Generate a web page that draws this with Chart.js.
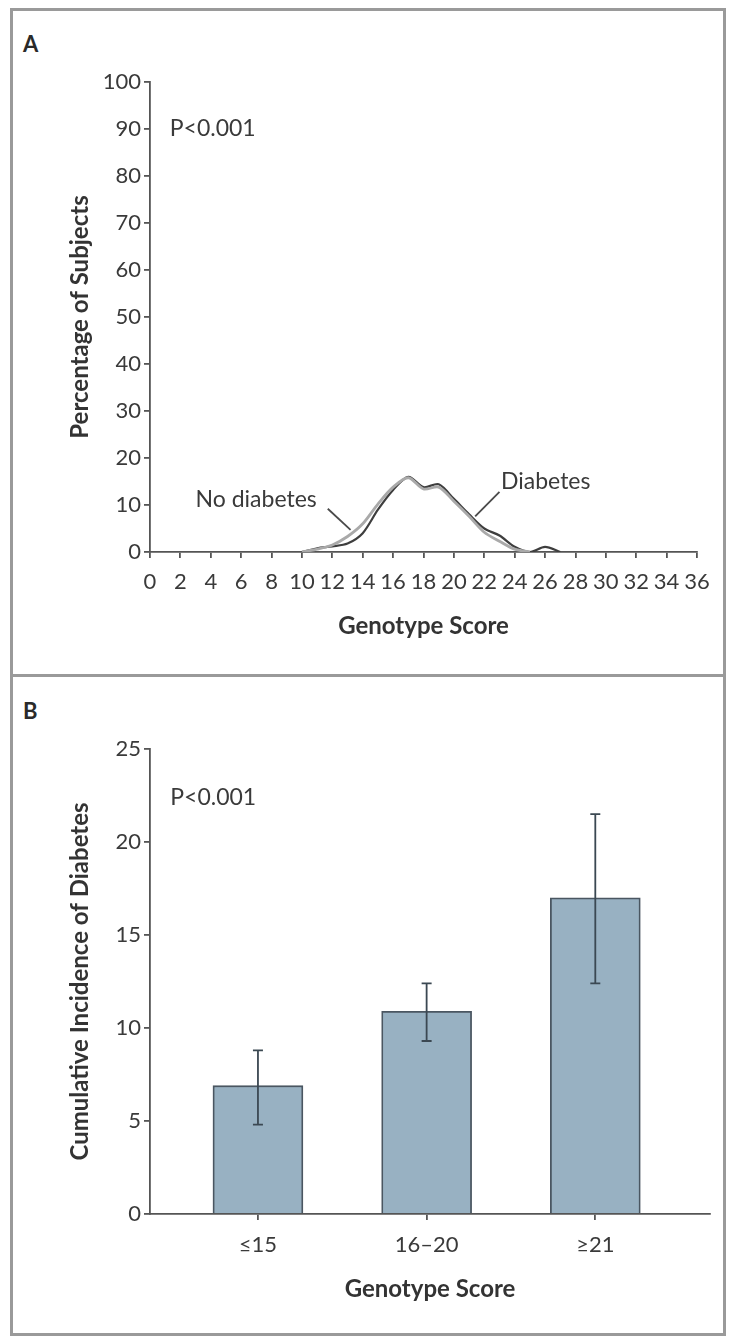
<!DOCTYPE html>
<html lang="en">
<head>
<meta charset="UTF-8">
<title>Genotype Score and Diabetes</title>
<script src="https://cdn.jsdelivr.net/npm/chart.js"></script>
<style>
  html, body { margin: 0; padding: 0; background: #fff; }
  body { width: 729px; height: 1338px; position: relative; overflow: hidden; font-family: Lato, "Open Sans", sans-serif; }
  .frame { position: absolute; left: 10px; top: 8px; width: 716px; height: 1328px; border: 3px solid #9a9a9a; box-sizing: border-box; }
  .divider { position: absolute; left: 10px; top: 674px; width: 716px; height: 3px; background: #9a9a9a; }
  .panel-label { position: absolute; left: 23px; font: bold 22px/26px Lato, sans-serif; color: #2a2a2a; }
  #wrapA { position: absolute; left: 0; top: 0; width: 729px; height: 675px; }
  #wrapB { position: absolute; left: 0; top: 677px; width: 729px; height: 661px; }
</style>
</head>
<body>
<div class="frame"></div>
<div class="divider"></div>
<div class="panel-label" style="top:31px">A</div>
<div class="panel-label" style="top:698px">B</div>
<div id="wrapA"><canvas id="chartA"></canvas></div>
<div id="wrapB"><canvas id="chartB"></canvas></div>

<script>
// Panel A: distribution of genotype score
const genotypeScores = [10, 11, 12, 13, 14, 15, 16, 17, 18, 19, 20, 21, 22, 23, 24, 25, 26, 27];
const noDiabetesPct  = [0, 0.6, 1.5, 3.3, 6.0, 10.2, 13.8, 15.8, 13.4, 13.8, 10.8, 7.6, 4.2, 2.3, 0.6, 0, null, null];
const diabetesPct    = [0, 0.8, 1.2, 1.8, 4.0, 9.0, 13.2, 16.0, 13.8, 14.4, 11.3, 8.0, 5.0, 3.5, 1.1, 0, 1.1, 0];

// Panel B: cumulative incidence by genotype score group
const groupLabels = ['≤15', '16–20', '≥21'];
const incidence = [6.9, 10.9, 17.0];
const ciLow  = [4.8, 9.3, 12.4];
const ciHigh = [8.8, 12.4, 21.5];

const axisColor = '#555';
const textColor = '#3a3a3a';
const fontFamily = 'Lato, "Open Sans", sans-serif';
const tickFont = { family: fontFamily, size: 22 };
const titleFont = { family: fontFamily, size: 24, weight: 'bold' };

// draws free text and pointer lines at data coordinates
const notesPlugin = {
    id: 'notes',
    afterDatasetsDraw(chart, args, opts) {
        const { ctx, scales: { x, y } } = chart;
        ctx.save();
        ctx.fillStyle = textColor;
        ctx.font = '23px ' + fontFamily;
        ctx.textBaseline = 'middle';
        (opts.texts || []).forEach(t => {
            ctx.fillText(t.text, x.getPixelForValue(t.x), y.getPixelForValue(t.y));
        });
        ctx.strokeStyle = '#4a4a4a';
        ctx.lineWidth = 1.8;
        (opts.pointers || []).forEach(p => {
            ctx.beginPath();
            ctx.moveTo(x.getPixelForValue(p.x1), y.getPixelForValue(p.y1));
            ctx.lineTo(x.getPixelForValue(p.x2), y.getPixelForValue(p.y2));
            ctx.stroke();
        });
        ctx.restore();
    }
};

const errorBarPlugin = {
    id: 'errorBars',
    afterDatasetsDraw(chart) {
        const { ctx, scales: { x, y } } = chart;
        ctx.save();
        ctx.strokeStyle = '#3b4852';
        ctx.lineWidth = 1.8;
        incidence.forEach((v, i) => {
            const px = x.getPixelForValue(i + 1);
            const lo = y.getPixelForValue(ciLow[i]);
            const hi = y.getPixelForValue(ciHigh[i]);
            ctx.beginPath();
            ctx.moveTo(px, lo); ctx.lineTo(px, hi);
            ctx.moveTo(px - 5, lo); ctx.lineTo(px + 5, lo);
            ctx.moveTo(px - 5, hi); ctx.lineTo(px + 5, hi);
            ctx.stroke();
        });
        ctx.restore();
    }
};

function axisStyle(extra) {
    return Object.assign({
        grid: { display: true, drawOnChartArea: false, drawTicks: true, tickLength: 6, color: axisColor, lineWidth: 1.8 },
        border: { display: true, color: axisColor, width: 1.8 }
    }, extra);
}

new Chart(document.getElementById('chartA'), {
    type: 'line',
    data: {
        datasets: [{
            label: 'No diabetes',
            data: genotypeScores.map((s, i) => ({ x: s, y: noDiabetesPct[i] })),
            borderColor: '#a9a9a9',
            borderWidth: 2.8,
            pointRadius: 0,
            tension: 0.3
        }, {
            label: 'Diabetes',
            data: genotypeScores.map((s, i) => ({ x: s, y: diabetesPct[i] })),
            borderColor: '#3e3e3e',
            borderWidth: 2.2,
            pointRadius: 0,
            tension: 0.3
        }]
    },
    options: {
        responsive: true,
        maintainAspectRatio: false,
        animation: false,
        layout: { padding: { left: 0, top: 82, right: 32, bottom: 0 } },
        plugins: {
            legend: { display: false },
            tooltip: { enabled: false },
            notes: {
                texts: [
                    { text: 'P<0.001', x: 1.3, y: 90 },
                    { text: 'No diabetes', x: 3.0, y: 11.2 },
                    { text: 'Diabetes', x: 23.1, y: 15.0 }
                ],
                pointers: [
                    { x1: 11.7, y1: 9.2, x2: 13.2, y2: 4.7 },
                    { x1: 23.0, y1: 12.8, x2: 21.4, y2: 7.6 }
                ]
            }
        },
        scales: {
            x: axisStyle({
                type: 'linear', min: 0, max: 36,
                ticks: { stepSize: 2, autoSkip: false, maxRotation: 0, color: textColor, font: tickFont, padding: 11 },
                title: { display: true, text: 'Genotype Score', color: '#333', font: titleFont, padding: { top: 0, bottom: 34 } },
                afterFit: s => { s.height = 123; }
            }),
            y: axisStyle({
                min: 0, max: 100,
                ticks: { stepSize: 10, color: textColor, font: tickFont, padding: 3 },
                title: { display: true, text: 'Percentage of Subjects', color: '#333', font: titleFont, padding: { top: 66, bottom: 0 } },
                afterFit: s => { s.width = 150; }
            })
        }
    },
    plugins: [notesPlugin]
});

new Chart(document.getElementById('chartB'), {
    type: 'bar',
    data: {
        datasets: [{
            data: groupLabels.map((l, i) => ({ x: i + 1, y: incidence[i] })),
            backgroundColor: '#98b1c2',
            borderColor: '#4a5661',
            borderWidth: 1.8,
            borderSkipped: 'bottom',
            barThickness: 90
        }]
    },
    options: {
        responsive: true,
        maintainAspectRatio: false,
        animation: false,
        layout: { padding: { left: 0, top: 72, right: 19, bottom: 0 } },
        plugins: {
            legend: { display: false },
            tooltip: { enabled: false },
            notes: { texts: [{ text: 'P<0.001', x: 0.48, y: 22.4 }] }
        },
        scales: {
            x: axisStyle({
                type: 'linear', min: 0.36, max: 3.68, offset: false,
                grid: { display: true, offset: false, drawOnChartArea: false, drawTicks: true, tickLength: 6, color: axisColor, lineWidth: 1.8 },
                afterBuildTicks: s => { s.ticks = groupLabels.map((l, i) => ({ value: i + 1 })); },
                ticks: { autoSkip: false, maxRotation: 0, color: textColor, font: tickFont, padding: 12, callback: v => groupLabels[v - 1] },
                title: { display: true, text: 'Genotype Score', color: '#333', font: titleFont, padding: { top: 0, bottom: 34 } },
                afterFit: s => { s.height = 124; }
            }),
            y: axisStyle({
                min: 0, max: 25,
                ticks: { stepSize: 5, color: textColor, font: tickFont, padding: 3 },
                title: { display: true, text: 'Cumulative Incidence of Diabetes', color: '#333', font: titleFont, padding: { top: 66, bottom: 0 } },
                afterFit: s => { s.width = 150; }
            })
        }
    },
    plugins: [notesPlugin, errorBarPlugin]
});
</script>
</body>
</html>
